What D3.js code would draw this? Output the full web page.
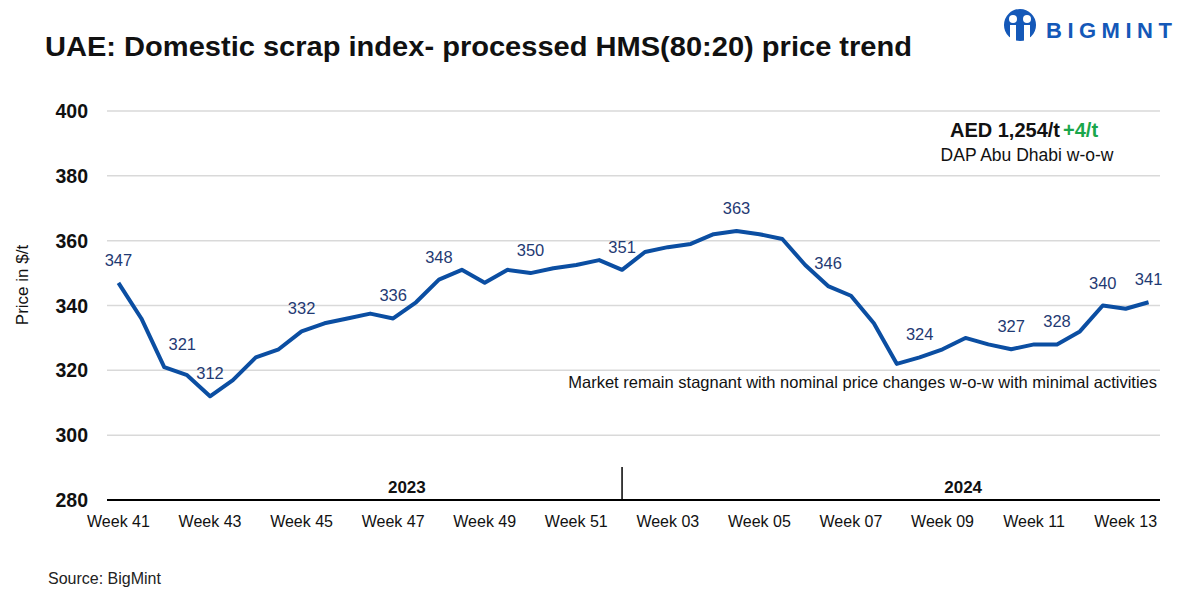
<!DOCTYPE html>
<html>
<head>
<meta charset="utf-8">
<script src="https://cdn.jsdelivr.net/npm/d3@7"></script>
<style>
    body { margin: 0; background: #fff; }
    svg { display: block; font-family: 'Liberation Sans', Arial, sans-serif; }
    .grid line { stroke: #d9d9d9; stroke-width: 1.5; }
    .d3-line { fill: none; stroke: #0b4ea2; stroke-width: 4; stroke-linejoin: round; }
    .d3-label { fill: #1f3a73; font-size: 16.5px; text-anchor: middle; }
    .tick-y { font-size: 19.5px; font-weight: bold; fill: #111; text-anchor: end; }
    .tick-x { font-size: 16px; fill: #111; text-anchor: middle; }
</style>
</head>
<body>
<div id="chart"></div>
<script>
// weekly price points, Week 41 (2023) to Week 13 (2024)
const prices = [
    347, 336, 321, 318.5, 312, 317, 324, 326.5, 332, 334.5,
    336, 337.5, 336, 341, 348, 351, 347, 351, 350, 351.5,
    352.5, 354, 351, 356.5, 358, 359, 362, 363, 362, 360.5,
    352.5, 346, 343, 334.5, 322, 324, 326.5, 330, 328, 326.5,
    328, 328, 332, 340, 339, 341
];
// x-axis tick labels, shown every 4th point
const weekLabels = ['Week 41', 'Week 43', 'Week 45', 'Week 47', 'Week 49', 'Week 51',
                    'Week 03', 'Week 05', 'Week 07', 'Week 09', 'Week 11', 'Week 13'];
// points that carry a value label
const labelled = [0, 2, 4, 8, 12, 14, 18, 22, 27, 31, 35, 39, 41, 43, 45];
const yTicks = [280, 300, 320, 340, 360, 380, 400];
const years = ['2023', '2024'];
const yearStart = [0, 22];

const W = 1200, H = 600;
const svg = d3.select('#chart').append('svg')
    .attr('width', W).attr('height', H);

const x = d3.scalePoint()
    .domain(d3.range(prices.length))
    .range([107, 1160])
    .padding(0.5);
const step = x.step();

const y = d3.scaleLinear()
    .domain([280, 400])
    .range([500, 111]);

// gridlines
svg.append('g').attr('class', 'grid')
    .selectAll('line')
    .data(yTicks.slice(1))
    .enter().append('line')
    .attr('x1', 107).attr('x2', 1160)
    .attr('y1', d => y(d)).attr('y2', d => y(d));

svg.selectAll('.tick-y')
    .data(yTicks)
    .enter().append('text')
    .attr('class', 'tick-y')
    .attr('x', 88)
    .attr('y', d => y(d) + 7)
    .text(d => d);

// category axis
svg.append('line')
    .attr('x1', 107).attr('x2', 1160)
    .attr('y1', y(280)).attr('y2', y(280))
    .attr('stroke', '#000').attr('stroke-width', 2);

svg.selectAll('.tick-x')
    .data(weekLabels)
    .enter().append('text')
    .attr('class', 'tick-x')
    .attr('x', (d, i) => x(i * 4))
    .attr('y', 527)
    .text(d => d);

// year divider and year labels
svg.append('line')
    .attr('x1', x(yearStart[1])).attr('x2', x(yearStart[1]))
    .attr('y1', 467).attr('y2', y(280))
    .attr('stroke', '#000').attr('stroke-width', 1.5);

const yearCenter = [12.6, 36.9];
svg.selectAll('.year')
    .data(years)
    .enter().append('text')
    .attr('x', (d, i) => x(0) + yearCenter[i] * step)
    .attr('y', 493)
    .attr('text-anchor', 'middle')
    .attr('font-size', 17).attr('font-weight', 'bold').attr('fill', '#111')
    .text(d => d);

// price line
const line = d3.line()
    .x((d, i) => x(i))
    .y(d => y(d));

svg.append('path')
    .datum(prices)
    .attr('class', 'd3-line')
    .attr('d', line);

svg.selectAll('.d3-label')
    .data(labelled)
    .enter().append('text')
    .attr('class', 'd3-label')
    .attr('x', i => x(i) + (i === 2 ? 18 : 0))
    .attr('y', i => y(prices[i]) - 17)
    .text(i => Math.round(prices[i]));

// titles and notes
svg.append('text')
    .attr('x', 45).attr('y', 56)
    .attr('font-size', 27).attr('font-weight', 'bold').attr('fill', '#111')
    .attr('textLength', 867).attr('lengthAdjust', 'spacingAndGlyphs')
    .text('UAE: Domestic scrap index- processed HMS(80:20) price trend');

svg.append('text')
    .attr('transform', 'translate(28,285) rotate(-90)')
    .attr('text-anchor', 'middle')
    .attr('font-size', 17).attr('fill', '#111')
    .text('Price in $/t');

const aed = svg.append('text')
    .attr('x', 1024).attr('y', 137)
    .attr('text-anchor', 'middle')
    .attr('font-size', 20).attr('font-weight', 'bold');
aed.append('tspan').attr('fill', '#111').text('AED 1,254/t');
aed.append('tspan').attr('fill', '#1aa64b').attr('dx', 3).text('+4/t');

svg.append('text')
    .attr('x', 1027).attr('y', 161)
    .attr('text-anchor', 'middle')
    .attr('font-size', 17.5).attr('fill', '#111')
    .text('DAP Abu Dhabi w-o-w');

svg.append('text')
    .attr('x', 1157).attr('y', 388)
    .attr('text-anchor', 'end')
    .attr('font-size', 16.5).attr('fill', '#111')
    .text('Market remain stagnant with nominal price changes w-o-w with minimal activities');

svg.append('text')
    .attr('x', 48).attr('y', 584)
    .attr('font-size', 16).attr('fill', '#222')
    .text('Source: BigMint');

// logo
const logo = svg.append('g').attr('fill', '#1458b8');
logo.append('circle').attr('cx', 1020).attr('cy', 25).attr('r', 16);
logo.append('circle').attr('cx', 1013).attr('cy', 19).attr('r', 4).attr('fill', '#fff');
logo.append('circle').attr('cx', 1027).attr('cy', 19).attr('r', 4).attr('fill', '#fff');
logo.append('rect').attr('x', 1010).attr('y', 25).attr('width', 6).attr('height', 16).attr('fill', '#fff');
logo.append('rect').attr('x', 1024).attr('y', 25).attr('width', 6).attr('height', 16).attr('fill', '#fff');
logo.append('text')
    .attr('x', 1046).attr('y', 38)
    .attr('font-size', 22).attr('font-weight', 'bold')
    .attr('letter-spacing', 5.5)
    .text('BIGMINT');
</script>
</body>
</html>
